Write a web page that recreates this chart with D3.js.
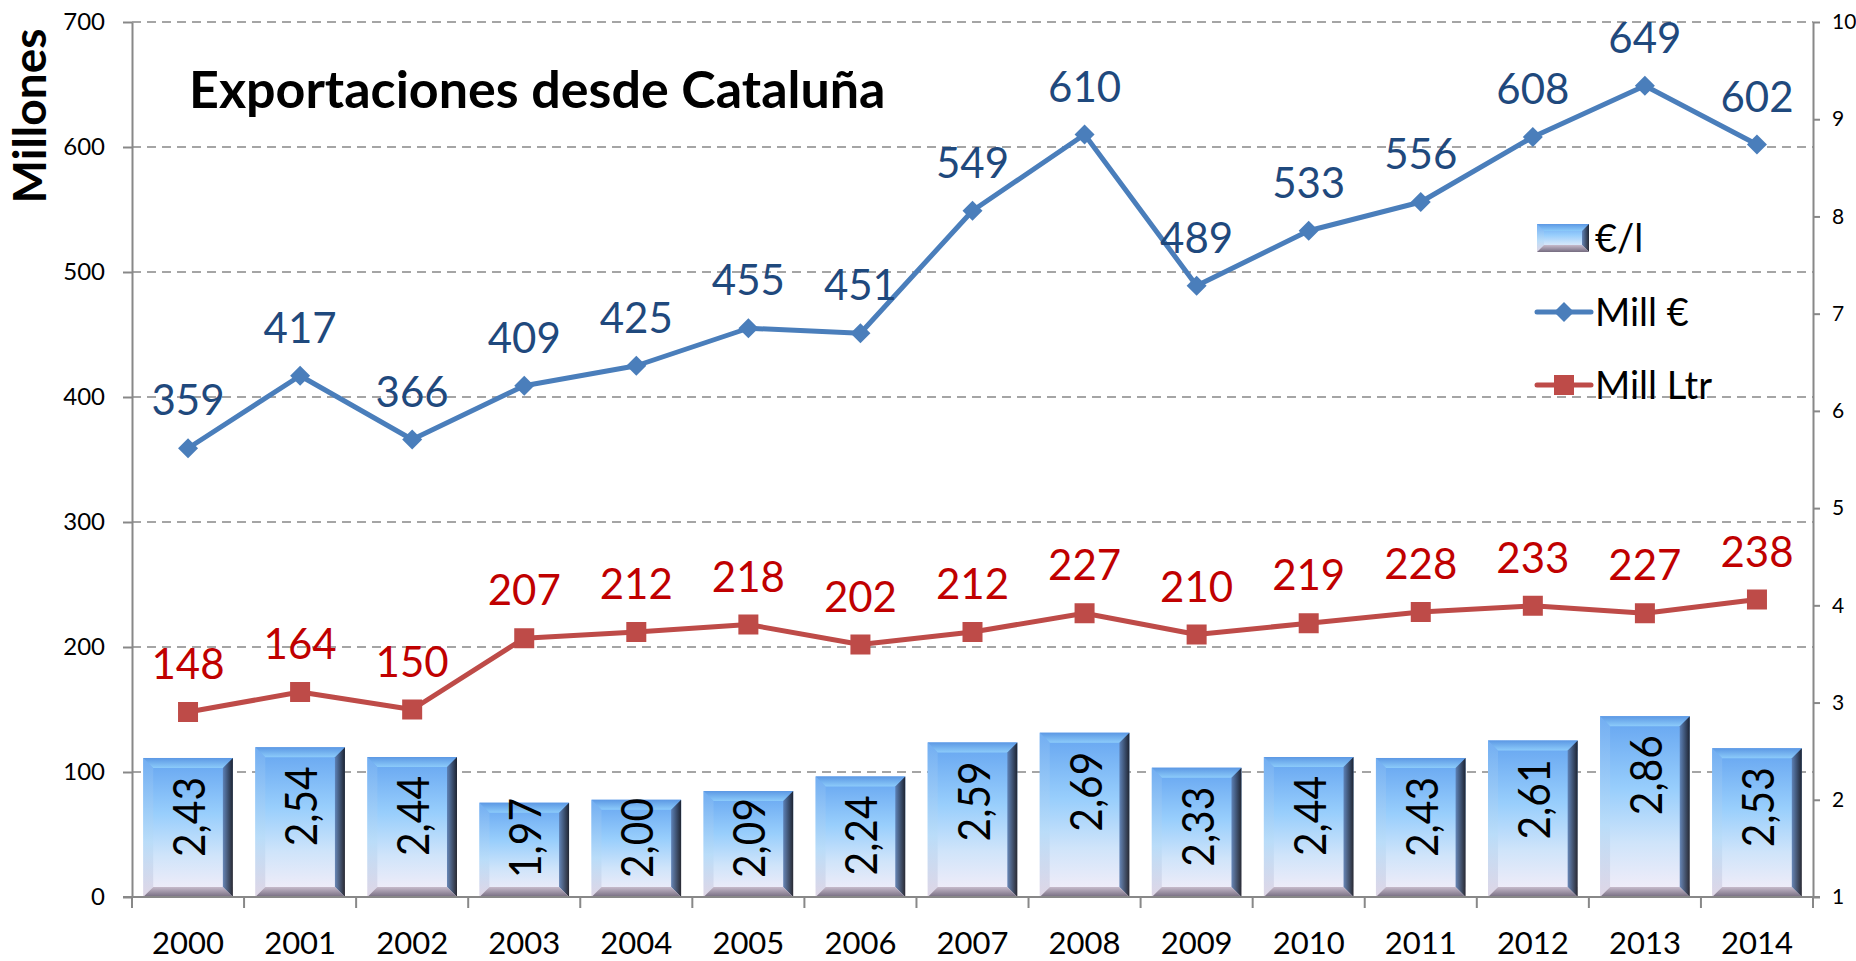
<!DOCTYPE html>
<html>
<head>
<meta charset="utf-8">
<script src="https://cdn.jsdelivr.net/npm/d3@7"></script>
<style>
html,body{margin:0;padding:0;background:#fff;}
svg{display:block;font-family:Lato,"Open Sans",sans-serif;}
</style>
</head>
<body>
<svg id="chart" width="1856" height="961"></svg>
<script>
const years = ["2000","2001","2002","2003","2004","2005","2006","2007","2008","2009","2010","2011","2012","2013","2014"];
const millEuro = [359,417,366,409,425,455,451,549,610,489,533,556,608,649,602];
const millLtr = [148,164,150,207,212,218,202,212,227,210,219,228,233,227,238];
const euroPerL = [2.43,2.54,2.44,1.97,2.00,2.09,2.24,2.59,2.69,2.33,2.44,2.43,2.61,2.86,2.53];
const leftTicks = [0,100,200,300,400,500,600,700];
const rightTicks = [1,2,3,4,5,6,7,8,9,10];
const title = "Exportaciones desde Cataluña";
const yTitle = "Millones";
const legendLabels = ["€/l","Mill €","Mill Ltr"];

const L = 132, R = 1813, T = 22, B = 897;
const svg = d3.select("#chart");

const x = d3.scaleBand().domain(years).range([L, R]).paddingInner(0.2).paddingOuter(0.1);
const yL = d3.scaleLinear().domain([0, 700]).range([B, T]);
const yR = d3.scaleLinear().domain([1, 10]).range([B, T]);

const blue = "#4A7EBB", red = "#BE4B48";
const blueTxt = "#1F497D", redTxt = "#C00000";
const axisCol = "#888888";

// defs
const defs = svg.append("defs");
function grad(id, x2, y2, stops){
  const g = defs.append("linearGradient").attr("id",id).attr("x1",0).attr("y1",0).attr("x2",x2).attr("y2",y2);
  stops.forEach(s=>g.append("stop").attr("offset",s[0]).attr("stop-color",s[1]));
}
grad("barGrad",0,1,[["0%","#64A4F0"],["40%","#98CEFC"],["70%","#CFE4FA"],["100%","#F6EEF8"]]);
grad("topGrad",0,1,[["0%","#5C98E4"],["100%","#8CCBFA"]]);
grad("rightGrad",1,0,[["0%","#5A7CB0"],["100%","#14141C"]]);
grad("leftGrad",0,1,[["0%","#78B2F2"],["60%","#B8DCF8"],["100%","#D6CCDE"]]);
grad("botGrad",0,1,[["0%","#C6BACB"],["100%","#756C80"]]);

// gridlines
svg.append("g").selectAll("line").data(leftTicks.filter(d=>d>0)).join("line")
  .attr("x1", L).attr("x2", R).attr("y1", d=>yL(d)).attr("y2", d=>yL(d))
  .attr("stroke", axisCol).attr("stroke-width", 1.6).attr("stroke-dasharray","9,6");

function pts(a){ return a.map(p=>p.join(",")).join(" "); }
function bevelBar(g, x0, y0, w, h, bev){
  const x1 = x0+w, y1 = y0+h;
  g.append("rect").attr("x",x0).attr("y",y0).attr("width",w).attr("height",h).attr("fill","url(#barGrad)");
  g.append("polygon").attr("points",pts([[x0,y0],[x1,y0],[x1-bev,y0+bev],[x0+bev,y0+bev]])).attr("fill","url(#topGrad)");
  g.append("polygon").attr("points",pts([[x0,y0],[x0+bev,y0+bev],[x0+bev,y1-bev],[x0,y1]])).attr("fill","url(#leftGrad)").attr("opacity",0.7);
  g.append("polygon").attr("points",pts([[x1,y0],[x1,y1],[x1-bev,y1-bev],[x1-bev,y0+bev]])).attr("fill","url(#rightGrad)").attr("opacity",0.9);
  g.append("polygon").attr("points",pts([[x0,y1],[x1,y1],[x1-bev,y1-bev],[x0+bev,y1-bev]])).attr("fill","url(#botGrad)");
}

// bars with bevel
const bars = svg.append("g");
years.forEach((yr,i) => {
  const y0 = yR(euroPerL[i]);
  bevelBar(bars.append("g"), x(yr), y0, x.bandwidth(), yR(1)-y0, 10);
});

// bar labels (inside end, kept inside the bar)
const labLen = 80;
svg.append("g").selectAll("text").data(years).join("text")
  .attr("transform",(d,i)=>{
    const top = Math.min(yR(euroPerL[i])+19, B-19-labLen);
    return `translate(${x(d)+x.bandwidth()/2+17},${top}) rotate(-90)`;
  })
  .attr("text-anchor","end").attr("font-size",44).attr("fill","#000")
  .attr("textLength",labLen).attr("lengthAdjust","spacingAndGlyphs")
  .text((d,i)=>euroPerL[i].toFixed(2).replace(".",","));

// axes
const axL = svg.append("g").attr("transform",`translate(${L},0)`)
  .call(d3.axisLeft(yL).tickValues(leftTicks).tickSize(9).tickPadding(18).tickSizeOuter(0));
const axR = svg.append("g").attr("transform",`translate(${R},0)`)
  .call(d3.axisRight(yR).tickValues(rightTicks).tickSize(7).tickPadding(12).tickSizeOuter(0));
const axB = svg.append("g").attr("transform",`translate(0,${B})`)
  .call(d3.axisBottom(x).tickSize(0).tickPadding(35).tickSizeOuter(0));
axL.selectAll("text").attr("font-size",24).attr("fill","#000").attr("font-family","Lato,sans-serif");
axR.selectAll("text").attr("font-size",21).attr("fill","#000").attr("font-family","Lato,sans-serif");
axB.selectAll("text").attr("font-size",31).attr("fill","#000").attr("font-family","Lato,sans-serif");
[axL,axR,axB].forEach(a=>{
  a.select(".domain").attr("stroke",axisCol).attr("stroke-width",2);
  a.selectAll(".tick line").attr("stroke",axisCol).attr("stroke-width",2);
});
axB.select(".domain").attr("d",`M${L-9},0H${R+7}`);
// category boundary ticks
const bounds = years.map(d=>x(d)-x.step()*x.paddingInner()/2);
bounds.push(R);
axB.append("g").selectAll("line").data(bounds).join("line")
  .attr("x1",d=>d).attr("x2",d=>d).attr("y1",0).attr("y2",11)
  .attr("stroke",axisCol).attr("stroke-width",2);

// lines
const cx = d => x(d)+x.bandwidth()/2;
const lineE = d3.line().x((d,i)=>cx(years[i])).y(d=>yL(d));
svg.append("path").datum(millEuro).attr("d",lineE).attr("fill","none").attr("stroke",blue).attr("stroke-width",5).attr("stroke-linejoin","round");
svg.append("path").datum(millLtr).attr("d",lineE).attr("fill","none").attr("stroke",red).attr("stroke-width",5).attr("stroke-linejoin","round");

svg.append("g").selectAll("path").data(millEuro).join("path")
  .attr("transform",(d,i)=>`translate(${cx(years[i])},${yL(d)}) rotate(45)`)
  .attr("d",d3.symbol().type(d3.symbolSquare).size(200)).attr("fill",blue);
svg.append("g").selectAll("rect").data(millLtr).join("rect")
  .attr("x",(d,i)=>cx(years[i])-10).attr("y",d=>yL(d)-10).attr("width",20).attr("height",20).attr("fill",red);

// point labels
svg.append("g").selectAll("text").data(millEuro).join("text")
  .attr("x",(d,i)=>cx(years[i])).attr("y",d=>yL(d)-33)
  .attr("text-anchor","middle").attr("font-size",42).attr("fill",blueTxt).text(d=>d);
svg.append("g").selectAll("text").data(millLtr).join("text")
  .attr("x",(d,i)=>cx(years[i])).attr("y",d=>yL(d)-33)
  .attr("text-anchor","middle").attr("font-size",42).attr("fill",redTxt).text(d=>d);

// title
svg.append("text").attr("x",189).attr("y",108).attr("font-size",52).attr("font-weight","bold").attr("fill","#000").text(title);
svg.append("text").attr("transform","translate(46,116) rotate(-90)").attr("text-anchor","middle")
  .attr("font-size",46).attr("font-weight","bold").attr("fill","#000").text(yTitle);

// legend
const lg = svg.append("g");
const lx = 1537, ly = [238,312,385];
bevelBar(lg.append("g"), lx, ly[0]-14, 52, 28, 7);
lg.append("line").attr("x1",lx).attr("x2",lx+54).attr("y1",ly[1]).attr("y2",ly[1]).attr("stroke",blue).attr("stroke-width",5).attr("stroke-linecap","round");
lg.append("path").attr("transform",`translate(${lx+27},${ly[1]}) rotate(45)`).attr("d",d3.symbol().type(d3.symbolSquare).size(200)).attr("fill",blue);
lg.append("line").attr("x1",lx).attr("x2",lx+54).attr("y1",ly[2]).attr("y2",ly[2]).attr("stroke",red).attr("stroke-width",5).attr("stroke-linecap","round");
lg.append("rect").attr("x",lx+17).attr("y",ly[2]-10).attr("width",20).attr("height",20).attr("fill",red);
lg.selectAll("text").data(legendLabels).join("text")
  .attr("x",1595).attr("y",(d,i)=>ly[i]+14).attr("font-size",38).attr("fill","#000").text(d=>d);
</script>
</body>
</html>
